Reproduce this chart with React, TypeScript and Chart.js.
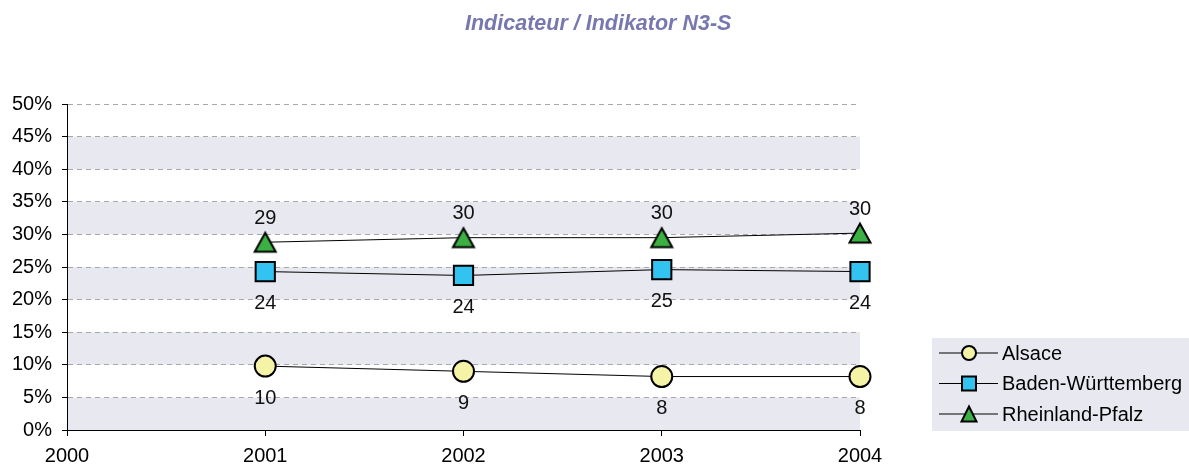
import React, { useEffect, useRef } from "react";
import { Chart, registerables } from "chart.js";

Chart.register(...registerables);

const TITLE = "Indicateur / Indikator N3-S";
const years = [2001, 2002, 2003, 2004];
const seriesNames = ["Alsace", "Baden-Württemberg", "Rheinland-Pfalz"];
const alsace = [9.8, 9.0, 8.2, 8.2];
const baden = [24.3, 23.7, 24.6, 24.3];
const rheinland = [28.8, 29.5, 29.5, 30.2];
const alsaceLabels = ["10", "9", "8", "8"];
const badenLabels = ["24", "24", "25", "24"];
const rheinlandLabels = ["29", "30", "30", "30"];
const yTicks = [0, 5, 10, 15, 20, 25, 30, 35, 40, 45, 50];
const xTicks = [2000, 2001, 2002, 2003, 2004];

const FONT = "'Liberation Sans', Arial, sans-serif";
const BAND = "#E8E8F0";
const colors = ["#F5F3A5", "#33C3F0", "#3CB043"];
const shapes = ["circle", "rect", "triangle"];
const labelSets = [alsaceLabels, badenLabels, rheinlandLabels];
const labelOffsets = [32, 32, -24];

function drawMarker(ctx: CanvasRenderingContext2D, shape: string, x: number, y: number, s: number, fill: string) {
  ctx.save();
  ctx.fillStyle = fill;
  ctx.strokeStyle = "#000";
  ctx.lineWidth = 2;
  ctx.beginPath();
  if (shape === "circle") {
    ctx.arc(x, y, s / 2, 0, Math.PI * 2);
  } else if (shape === "rect") {
    ctx.rect(x - s / 2, y - s / 2, s, s);
  } else {
    ctx.moveTo(x, y - s / 2);
    ctx.lineTo(x + s / 2, y + s / 2);
    ctx.lineTo(x - s / 2, y + s / 2);
    ctx.closePath();
  }
  ctx.fill();
  ctx.stroke();
  ctx.restore();
}

function makeTriangleImage(fill: string): HTMLCanvasElement {
  const c = document.createElement("canvas");
  c.width = 26;
  c.height = 24;
  const g = c.getContext("2d")!;
  g.fillStyle = fill;
  g.strokeStyle = "#000";
  g.lineWidth = 2;
  g.lineJoin = "miter";
  g.beginPath();
  g.moveTo(13, 2.5);
  g.lineTo(23.5, 21.5);
  g.lineTo(2.5, 21.5);
  g.closePath();
  g.fill();
  g.stroke();
  return c;
}

const bandsPlugin = {
  id: "bands",
  beforeDraw(chart: any) {
    const { ctx, chartArea, scales } = chart;
    const y = scales.y;
    ctx.save();
    ctx.fillStyle = BAND;
    for (let i = 0; i + 1 < yTicks.length; i += 2) {
      const top = y.getPixelForValue(yTicks[i + 1]);
      const bot = y.getPixelForValue(yTicks[i]);
      ctx.fillRect(chartArea.left, top, chartArea.right - chartArea.left, bot - top);
    }
    ctx.restore();
  },
};

const extrasPlugin = {
  id: "extras",
  afterDraw(chart: any) {
    const { ctx } = chart;
    // title
    ctx.save();
    ctx.font = `italic bold 21.5px ${FONT}`;
    ctx.fillStyle = "#7878B0";
    ctx.textAlign = "left";
    ctx.textBaseline = "alphabetic";
    ctx.fillText(TITLE, 465, 29.5);
    ctx.restore();

    // data labels
    ctx.save();
    ctx.font = `20px ${FONT}`;
    ctx.fillStyle = "#111";
    ctx.textAlign = "center";
    ctx.textBaseline = "middle";
    chart.data.datasets.forEach((ds: any, di: number) => {
      const meta = chart.getDatasetMeta(di);
      meta.data.forEach((pt: any, i: number) => {
        ctx.fillText(labelSets[di][i], pt.x, pt.y + labelOffsets[di]);
      });
    });
    ctx.restore();

    // legend
    const lx = 932, ly = 338, lw = 1189 - 932, lh = 93;
    ctx.save();
    ctx.fillStyle = BAND;
    ctx.fillRect(lx, ly, lw, lh);
    ctx.font = `20px ${FONT}`;
    ctx.textAlign = "left";
    ctx.textBaseline = "middle";
    seriesNames.forEach((name, i) => {
      const ry = 353 + i * 30.5;
      ctx.strokeStyle = "#000";
      ctx.lineWidth = 1;
      ctx.beginPath();
      ctx.moveTo(939, ry);
      ctx.lineTo(998, ry);
      ctx.stroke();
      drawMarker(ctx, shapes[i], 969, ry, i === 2 ? 15 : 14, colors[i]);
      ctx.fillStyle = "#000";
      ctx.fillText(name, 1002, ry + 1);
    });
    ctx.restore();
  },
};

export default function App() {
  const ref = useRef<HTMLCanvasElement | null>(null);
  useEffect(() => {
    document.body.style.margin = "0";
    const canvas = ref.current;
    if (!canvas) return;
    const seriesData = [alsace, baden, rheinland];
    const radii = [10.5, 13.6, 12.2];
    const triImg = makeTriangleImage(colors[2]);
    const pointStyles: any[] = ["circle", "rect", triImg];
    const chart = new Chart(canvas, {
      type: "line",
      data: {
        datasets: seriesData.map((vals, i) => ({
          label: seriesNames[i],
          data: years.map((yr, j) => ({ x: yr, y: vals[j] })),
          borderColor: "#000",
          borderWidth: 1,
          backgroundColor: colors[i],
          pointBackgroundColor: colors[i],
          pointBorderColor: "#000",
          pointBorderWidth: 2,
          pointRadius: radii[i],
          pointHoverRadius: radii[i],
          pointStyle: pointStyles[i],
          tension: 0,
          clip: false as any,
        })),
      },
      options: {
        responsive: false,
        animation: false,
        events: [],
        layout: { padding: { top: 104, right: 329, left: 0, bottom: 0 } },
        plugins: { legend: { display: false }, title: { display: false }, tooltip: { enabled: false } },
        scales: {
          x: {
            type: "linear",
            min: 2000,
            max: 2004,
            afterBuildTicks: (s: any) => {
              s.ticks = xTicks.map((v) => ({ value: v }));
            },
            afterFit: (s: any) => {
              s.height = 38;
            },
            grid: { drawOnChartArea: false, drawTicks: true, tickLength: 6, tickColor: "#000", tickWidth: 1 },
            border: { color: "#000", width: 1 },
            ticks: {
              autoSkip: false,
              maxRotation: 0,
              padding: 8,
              color: "#000",
              font: { family: FONT, size: 20 },
              callback: (v: any) => String(v),
            },
          },
          y: {
            type: "linear",
            min: 0,
            max: 50,
            afterBuildTicks: (s: any) => {
              s.ticks = yTicks.map((v) => ({ value: v }));
            },
            afterFit: (s: any) => {
              s.width = 67;
            },
            grid: { color: "#A8A8A8", lineWidth: 1, drawTicks: true, tickLength: 5, tickColor: "#000", tickWidth: 1, tickBorderDash: [] },
            border: { color: "#000", width: 1, dash: [5, 4] },
            ticks: {
              autoSkip: false,
              padding: 10,
              color: "#000",
              font: { family: FONT, size: 20 },
              callback: (v: any) => `${v}%`,
            },
          },
        },
      },
      plugins: [bandsPlugin, extrasPlugin],
    });
    return () => chart.destroy();
  }, []);
  return (
    <div style={{ width: 1189, height: 468 }}>
      <canvas ref={ref} width={1189} height={468} style={{ display: "block" }} />
    </div>
  );
}
